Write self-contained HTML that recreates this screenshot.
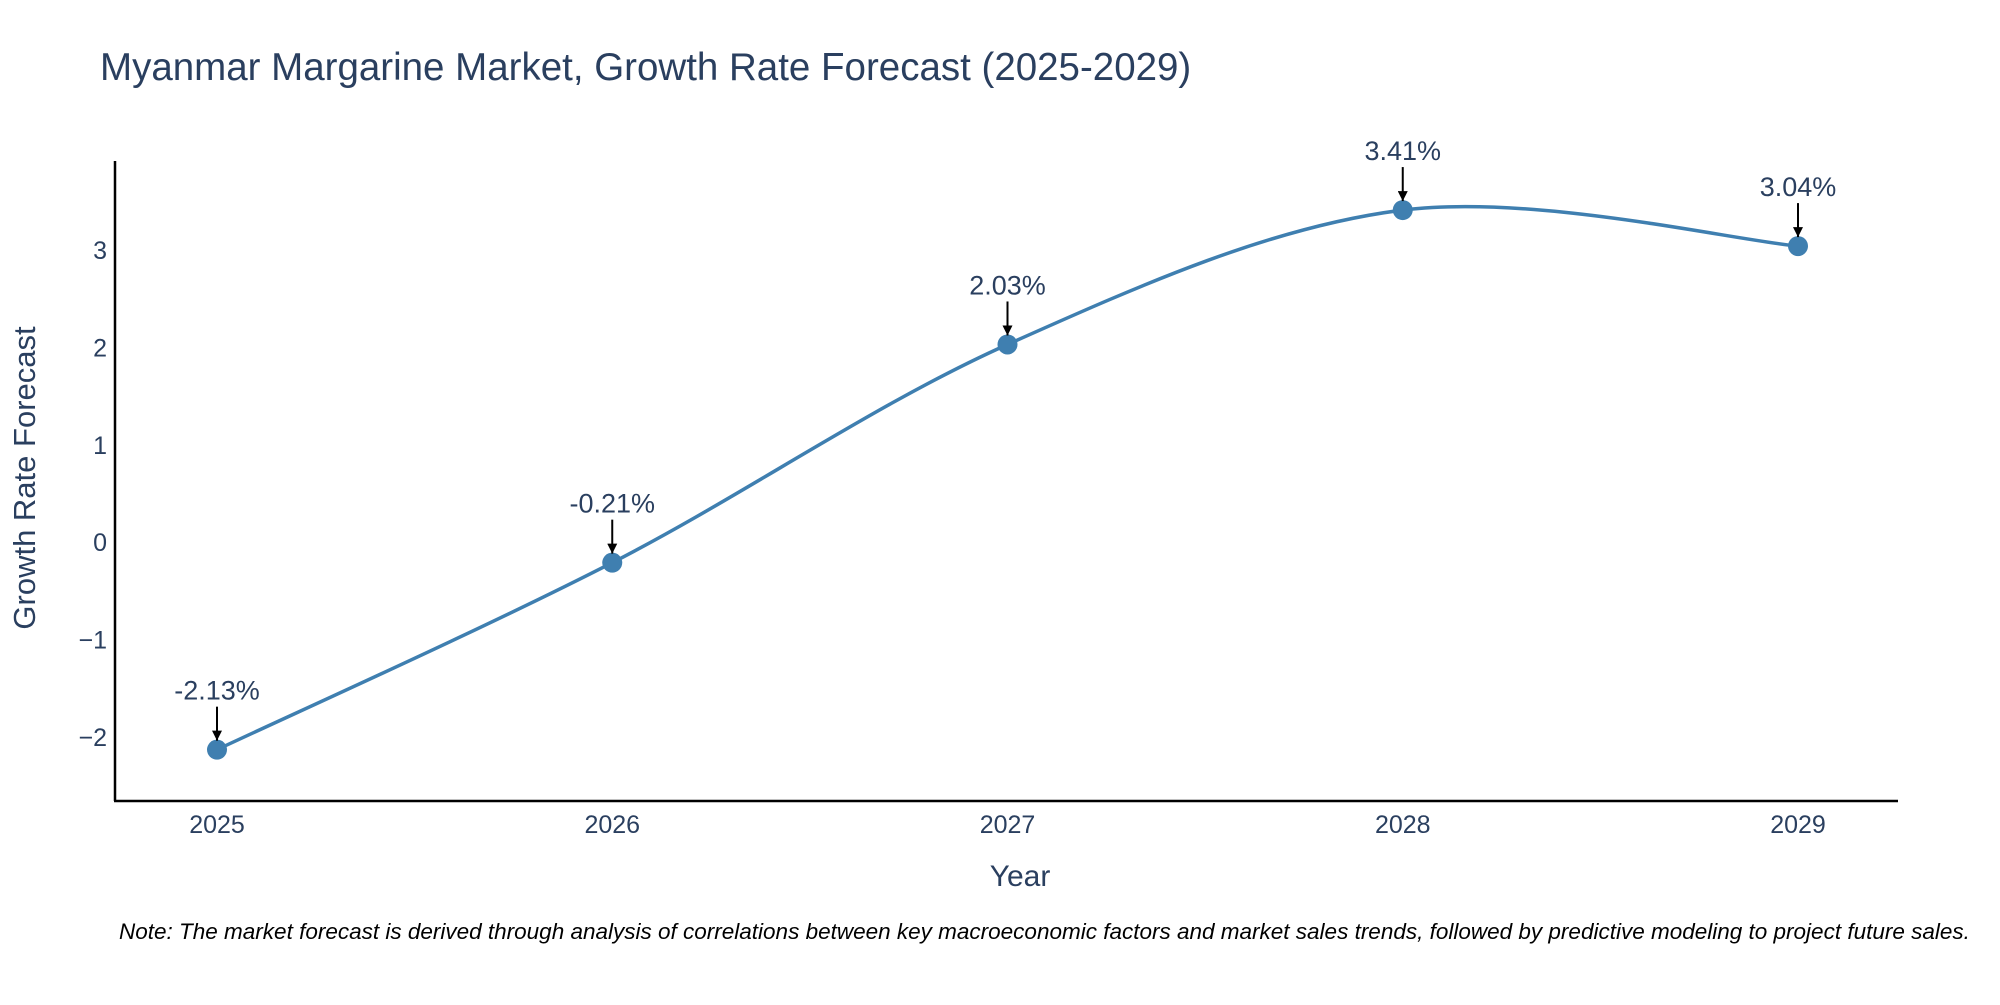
<!DOCTYPE html>
<html><head><meta charset="utf-8"><style>
body{margin:0;background:#fff;font-family:"Liberation Sans","DejaVu Sans",sans-serif;}
svg text{font-family:"Liberation Sans","DejaVu Sans",sans-serif;}
</style></head><body>
<svg id="chart" width="2000" height="1000" xmlns="http://www.w3.org/2000/svg">
<defs><marker id="ah" viewBox="0 0 10 10" refX="10" refY="5" markerWidth="5" markerHeight="5" orient="auto"><path d="M0,0 L10,5 L0,10 z" fill="#000"/></marker></defs>
<text x="100" y="80" font-size="38.5" fill="#2a3f5f">Myanmar Margarine Market, Growth Rate Forecast (2025-2029)</text>
<g id="axes"></g>
<g id="plot"></g>
<text x="1020" y="886" font-size="30" fill="#2a3f5f" text-anchor="middle">Year</text>
<text transform="translate(35,478) rotate(-90)" font-size="31" fill="#2a3f5f" text-anchor="middle">Growth Rate Forecast</text>
<text x="119" y="939" font-size="22.5" font-style="italic" fill="#000">Note: The market forecast is derived through analysis of correlations between key macroeconomic factors and market sales trends, followed by predictive modeling to project future sales.</text>
</svg>
<script>
const years=[2025,2026,2027,2028,2029];
const values=[-2.13,-0.21,2.03,3.41,3.04];
const labels=["-2.13%","-0.21%","2.03%","3.41%","3.04%"];
const yTicks=[-2,-1,0,1,2,3];
const NS="http://www.w3.org/2000/svg";
const xs=y=>217+(y-2025)*(1798-217)/4;
const ys=v=>737-(v+2)*97.4;
function mk(t,a,p){const e=document.createElementNS(NS,t);for(const k in a)e.setAttribute(k,a[k]);p.appendChild(e);return e;}
const ax=document.getElementById('axes'),pl=document.getElementById('plot');
const yl=mk('line',{x1:115,y1:161,x2:115,y2:801,stroke:'#000','stroke-width':2.5},ax);


const xl=mk('line',{x1:114,y1:801,x2:1898,y2:801,stroke:'#000','stroke-width':2.5},ax);


yTicks.forEach(t=>{const e=mk('text',{x:107,y:ys(t)+9,'font-size':25,fill:'#2a3f5f','text-anchor':'end'},ax);e.textContent=t<0?'\u2212'+Math.abs(t):t;

});
years.forEach(y=>{const e=mk('text',{x:xs(y),y:833,'font-size':25,fill:'#2a3f5f','text-anchor':'middle'},ax);e.textContent=y;

});
const P=years.map((y,i)=>[xs(y),ys(values[i])]);
let d='M'+P[0][0]+','+P[0][1];const s=1/6;
for(let i=0;i<P.length-1;i++){const p0=P[Math.max(0,i-1)],p1=P[i],p2=P[i+1],p3=P[Math.min(P.length-1,i+2)];
const c1=[p1[0]+(p2[0]-p0[0])*s,p1[1]+(p2[1]-p0[1])*s];
const c2=[p2[0]-(p3[0]-p1[0])*s,p2[1]-(p3[1]-p1[1])*s];
d+=' C'+c1[0]+','+c1[1]+' '+c2[0]+','+c2[1]+' '+p2[0]+','+p2[1];}
const ln=mk('path',{d:d,fill:'none',stroke:'#3f7fb0','stroke-width':3.5},pl);


P.forEach((p,i)=>{const c=mk('circle',{cx:p[0],cy:p[1],r:10,fill:'#3f7fb0'},pl);


const a=mk('line',{x1:p[0],y1:p[1]-43,x2:p[0],y2:p[1]-9,stroke:'#000','stroke-width':2,'marker-end':'url(#ah)'},pl);


const t=mk('text',{x:p[0],y:p[1]-50,'font-size':27,fill:'#2a3f5f','text-anchor':'middle'},pl);t.textContent=labels[i];

});
</script>
</body></html>
